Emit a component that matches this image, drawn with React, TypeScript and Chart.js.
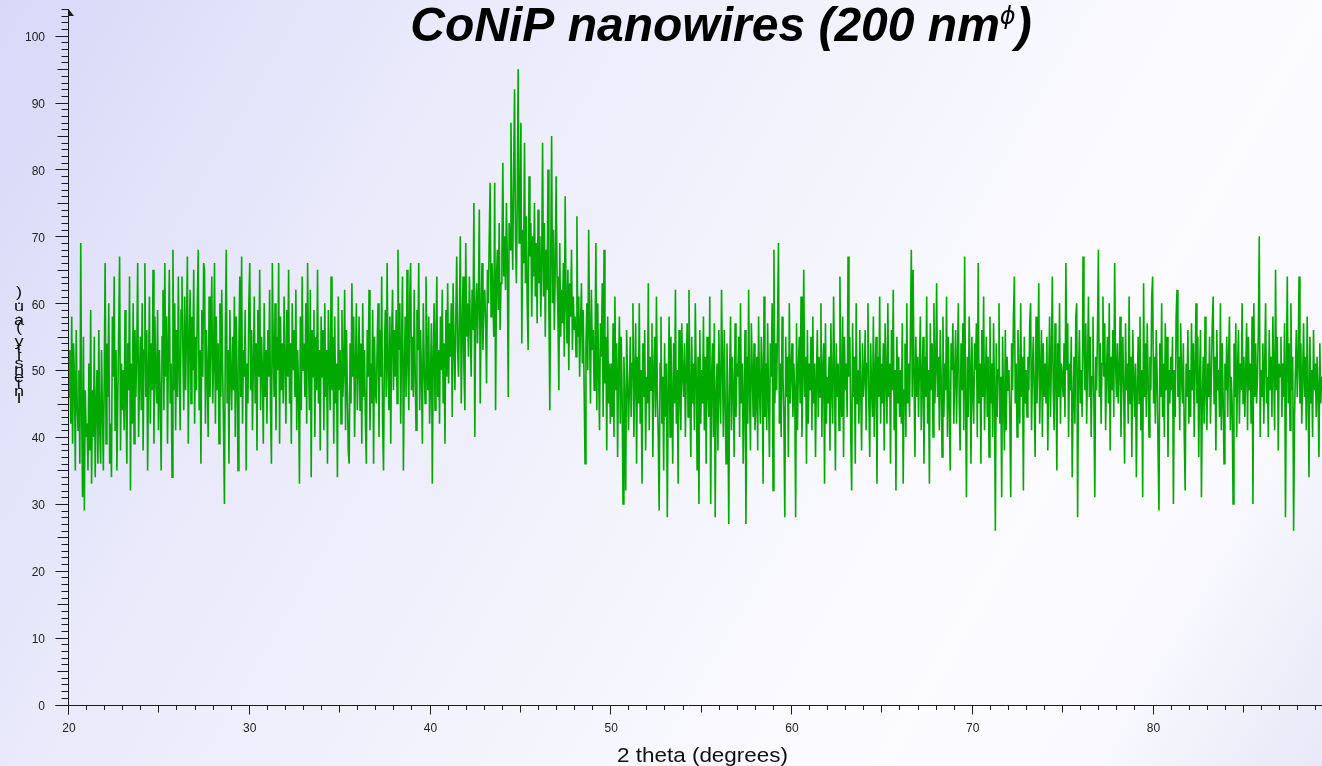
import React, { useEffect, useRef } from 'react';
import { Chart, registerables } from 'chart.js';

Chart.register(...registerables);

const TITLE_MAIN = 'CoNiP nanowires (200 nm';
const TITLE_SUP = '\u03D5';
const TITLE_END = ')';
const X_TITLE = '2 theta (degrees)';
const Y_TITLE = 'Intensity (a.u.)';

const scanStart = 20;
const scanStep = 0.05;
const xMin = 20;
const xMax = 89.32;
const yMin = 0;
const yMax = 104;
const xTickLabels = [20, 30, 40, 50, 60, 70, 80];
const yTickLabels = [0, 10, 20, 30, 40, 50, 60, 70, 80, 90, 100];

const counts20to30 = [
  46, 53, 42, 58, 39, 54, 49, 35, 56, 45, 41, 50, 36, 69, 44, 31, 55, 29, 47, 40,
  42, 35, 51, 38, 59, 33, 47, 40, 55, 34, 45, 50, 36, 56, 41, 36, 53, 44, 35, 49,
  66, 39, 54, 46, 60, 36, 42, 34, 58, 49, 64, 41, 53, 35, 46, 56, 67, 38, 51, 44,
  50, 41, 59, 45, 36, 54, 47, 64, 32, 51, 42, 60, 39, 56, 46, 53, 66, 40, 49, 55,
  44, 60, 38, 53, 66, 46, 56, 35, 50, 61, 42, 54, 47, 65, 39, 58, 49, 45, 59, 41,
  53, 46, 35, 55, 62, 44, 66, 49, 58, 39, 54, 65, 45, 51, 34, 68, 47, 60, 41, 56,
  46, 64, 50, 41, 59, 64, 53, 44, 61, 47, 56, 67, 39, 54, 62, 45, 58, 50, 65, 42,
  55, 47, 60, 68, 44, 53, 36, 59, 49, 66, 65, 42, 56, 50, 40, 61, 46, 54, 64, 45,
  51, 66, 42, 58, 47, 54, 39, 60, 46, 62, 50, 41, 30, 56, 68, 45, 53, 36, 59, 49,
  44, 55, 47, 61, 40, 58, 50, 35, 54, 64, 46, 67, 42, 53, 49, 59, 35, 51, 45, 60,
];

const counts30to40 = [
  66, 47, 56, 41, 51, 61, 45, 54, 38, 59, 49, 65, 44, 55, 50, 39, 60, 46, 53, 42,
  56, 49, 62, 44, 36, 66, 53, 46, 60, 41, 55, 50, 66, 39, 58, 47, 54, 45, 61, 51,
  42, 59, 49, 65, 45, 54, 39, 60, 50, 56, 46, 62, 41, 53, 47, 33, 58, 44, 64, 50,
  54, 46, 60, 42, 66, 51, 44, 62, 34, 56, 49, 59, 40, 55, 47, 65, 45, 53, 38, 58,
  49, 56, 41, 60, 46, 53, 36, 59, 50, 44, 64, 47, 55, 39, 58, 45, 51, 34, 61, 47,
  53, 42, 59, 46, 50, 62, 41, 56, 47, 38, 36, 54, 45, 63, 49, 58, 40, 51, 60, 44,
  50, 58, 44, 54, 39, 60, 46, 53, 42, 36, 56, 49, 62, 41, 51, 45, 59, 36, 55, 47,
  45, 54, 60, 40, 56, 49, 64, 42, 35, 53, 59, 46, 66, 50, 44, 58, 39, 55, 62, 47,
  56, 49, 59, 45, 68, 53, 60, 42, 54, 64, 35, 50, 58, 46, 65, 51, 44, 61, 66, 47,
  55, 46, 62, 50, 41, 59, 53, 66, 44, 56, 49, 39, 60, 51, 45, 64, 54, 47, 58, 42,
];

const counts40to50 = [
  49, 57, 33, 52, 60, 44, 55, 64, 46, 53, 42, 58, 50, 62, 45, 54, 39, 59, 49, 63,
  48, 57, 52, 60, 43, 63, 54, 47, 58, 67, 53, 49, 59, 70, 45, 55, 64, 50, 44, 69,
  55, 60, 52, 64, 57, 49, 62, 56, 75, 40, 59, 63, 54, 61, 74, 45, 58, 66, 53, 60,
  62, 57, 48, 65, 60, 70, 78, 58, 66, 61, 55, 78, 44, 64, 68, 59, 72, 56, 63, 67,
  81, 64, 70, 62, 75, 66, 46, 72, 68, 87, 73, 65, 80, 92, 70, 63, 76, 95, 69, 74,
  87, 54, 71, 66, 84, 63, 73, 60, 53, 79, 67, 72, 58, 70, 64, 75, 61, 69, 57, 74,
  63, 70, 58, 66, 84, 61, 72, 55, 68, 62, 80, 59, 44, 67, 85, 60, 71, 56, 65, 79,
  64, 58, 47, 69, 55, 62, 57, 66, 52, 76, 60, 54, 65, 50, 63, 58, 68, 53, 61, 56,
  58, 52, 73, 55, 61, 49, 57, 63, 51, 59, 47, 36, 54, 60, 50, 71, 56, 45, 62, 53,
  56, 47, 53, 69, 44, 60, 50, 41, 57, 52, 63, 43, 68, 48, 55, 38, 58, 45, 51, 42,
];

const counts50to60 = [
  51, 43, 57, 40, 61, 47, 54, 37, 50, 58, 42, 55, 46, 30, 52, 45, 32, 56, 49, 41,
  47, 55, 43, 51, 60, 40, 49, 57, 36, 52, 45, 60, 42, 50, 33, 54, 46, 56, 38, 49,
  45, 63, 41, 52, 47, 57, 37, 50, 55, 43, 61, 46, 40, 29, 51, 58, 42, 49, 35, 54,
  43, 51, 28, 47, 58, 40, 55, 46, 36, 54, 45, 62, 42, 50, 33, 56, 47, 41, 57, 49,
  46, 54, 40, 50, 57, 43, 62, 47, 37, 55, 45, 51, 41, 60, 49, 35, 52, 30, 56, 42,
  50, 45, 58, 41, 52, 36, 55, 47, 43, 61, 30, 49, 54, 40, 57, 28, 46, 51, 38, 56,
  47, 42, 62, 51, 40, 56, 46, 36, 54, 45, 27, 50, 58, 41, 52, 47, 37, 57, 43, 51,
  49, 55, 40, 60, 45, 51, 36, 46, 56, 27, 52, 42, 62, 47, 38, 57, 50, 43, 54, 41,
  45, 52, 38, 58, 47, 42, 55, 50, 33, 61, 43, 51, 41, 57, 46, 37, 54, 49, 60, 32,
  68, 45, 54, 47, 57, 69, 42, 51, 40, 58, 49, 43, 28, 55, 46, 52, 37, 60, 45, 50,
];

const counts60to70 = [
  54, 43, 51, 47, 28, 57, 41, 50, 55, 45, 61, 40, 49, 65, 46, 52, 36, 56, 42, 51,
  47, 55, 41, 58, 45, 51, 37, 49, 56, 43, 52, 46, 60, 40, 50, 54, 33, 57, 42, 49,
  45, 52, 38, 57, 47, 42, 61, 50, 35, 54, 46, 51, 41, 64, 49, 43, 58, 37, 55, 47,
  51, 43, 67, 49, 55, 40, 32, 57, 46, 52, 36, 60, 45, 50, 42, 56, 47, 38, 54, 46,
  49, 56, 41, 51, 60, 45, 37, 54, 47, 43, 58, 40, 50, 55, 33, 52, 46, 61, 42, 51,
  45, 54, 38, 57, 49, 42, 60, 46, 51, 36, 56, 47, 62, 41, 50, 32, 55, 45, 52, 43,
  50, 42, 57, 33, 47, 54, 40, 60, 45, 51, 43, 56, 68, 46, 65, 49, 37, 55, 46, 52,
  43, 51, 58, 41, 49, 55, 36, 52, 46, 61, 42, 50, 33, 57, 47, 54, 40, 60, 45, 50,
  63, 46, 52, 41, 56, 49, 37, 58, 43, 51, 47, 61, 40, 55, 45, 35, 54, 50, 57, 42,
  49, 56, 42, 51, 60, 45, 38, 54, 47, 57, 41, 67, 46, 31, 52, 43, 58, 50, 36, 55,
];

const counts70to80 = [
  47, 42, 54, 50, 57, 40, 66, 45, 51, 36, 56, 46, 61, 41, 49, 55, 43, 52, 37, 58,
  45, 51, 40, 57, 47, 26, 54, 43, 50, 60, 42, 49, 31, 55, 46, 38, 56, 41, 52, 47,
  50, 43, 31, 54, 47, 58, 64, 45, 51, 40, 56, 49, 42, 60, 46, 52, 32, 55, 45, 50,
  43, 52, 47, 57, 60, 41, 50, 55, 46, 37, 58, 45, 51, 63, 42, 49, 56, 40, 54, 46,
  51, 45, 55, 38, 49, 58, 43, 52, 64, 47, 41, 57, 50, 35, 54, 46, 60, 42, 51, 49,
  46, 54, 43, 66, 50, 57, 40, 51, 47, 55, 34, 45, 52, 42, 58, 60, 28, 49, 56, 45,
  50, 43, 67, 54, 47, 57, 42, 51, 61, 46, 55, 40, 49, 58, 45, 31, 52, 47, 56, 68,
  46, 54, 42, 51, 61, 49, 57, 41, 50, 55, 45, 60, 38, 52, 47, 56, 43, 66, 51, 46,
  54, 45, 50, 58, 40, 49, 55, 46, 36, 57, 47, 51, 42, 61, 45, 52, 37, 56, 49, 43,
  51, 34, 47, 55, 45, 58, 41, 50, 31, 63, 46, 54, 43, 57, 49, 40, 52, 47, 61, 64,
];

const counts80to89 = [
  45, 52, 42, 56, 49, 38, 29, 54, 46, 60, 43, 51, 40, 57, 47, 55, 37, 50, 45, 52,
  47, 55, 30, 50, 43, 58, 62, 46, 52, 41, 57, 49, 45, 54, 40, 32, 51, 46, 56, 42,
  50, 43, 57, 47, 54, 40, 51, 60, 45, 55, 37, 49, 56, 31, 46, 52, 42, 58, 47, 41,
  51, 46, 55, 42, 49, 57, 61, 45, 52, 38, 56, 47, 50, 43, 60, 41, 54, 46, 36, 51,
  47, 55, 43, 52, 58, 41, 49, 45, 30, 54, 46, 57, 40, 50, 56, 42, 51, 47, 60, 45,
  52, 43, 50, 57, 41, 55, 47, 51, 42, 58, 30, 60, 46, 54, 45, 49, 56, 70, 40, 50,
  46, 54, 42, 51, 60, 45, 49, 40, 56, 47, 52, 43, 58, 50, 41, 65, 47, 55, 38, 51,
  49, 55, 43, 51, 46, 57, 28, 50, 64, 45, 54, 41, 60, 47, 52, 26, 43, 50, 56, 46,
  51, 64, 45, 54, 42, 49, 57, 46, 52, 41, 58, 47, 34, 55, 45, 50, 40, 56, 47, 51,
  43, 52, 47, 37, 54, 45, 49,
];

const SANS = '"Liberation Sans", Arial, Helvetica, sans-serif';

const backgroundPlugin = {
  id: 'bgGradient',
  beforeDraw(chart: any) {
    const { ctx, width, height } = chart;
    const g = ctx.createLinearGradient(0, 0, width, height);
    g.addColorStop(0, '#d8d8f9');
    g.addColorStop(0.25, '#e9e9fb');
    g.addColorStop(0.5, '#f3f3fd');
    g.addColorStop(0.75, '#fcfcff');
    g.addColorStop(0.87, '#f8f8fe');
    g.addColorStop(1, '#e8e8f8');
    ctx.save();
    ctx.fillStyle = g;
    ctx.fillRect(0, 0, width, height);
    ctx.restore();
  },
};

const decorPlugin = {
  id: 'decor',
  afterDraw(chart: any) {
    const { ctx, chartArea } = chart;
    const xs = chart.scales.x;
    const ys = chart.scales.y;
    const ax = Math.round(chartArea.left) - 0.5;
    const ay = Math.round(ys.getPixelForValue(0)) + 0.5;
    ctx.save();
    ctx.strokeStyle = '#1c1c1c';
    ctx.fillStyle = '#1c1c1c';
    ctx.lineWidth = 1;
    // axis lines
    ctx.beginPath();
    ctx.moveTo(ax, ys.getPixelForValue(yMax));
    ctx.lineTo(ax, ay + 9);
    ctx.moveTo(ax - 13, ay);
    ctx.lineTo(chartArea.right, ay);
    ctx.stroke();
    // y ticks
    ctx.beginPath();
    for (let v = yMin; v <= yMax; v++) {
      const py = Math.round(ys.getPixelForValue(v)) + 0.5;
      const len = v % 10 === 0 ? 13 : v % 5 === 0 ? 11 : 7;
      ctx.moveTo(ax - len, py);
      ctx.lineTo(ax, py);
    }
    // x ticks
    for (let v = xMin; v <= Math.floor(xMax); v++) {
      const px = Math.round(xs.getPixelForValue(v)) - 0.5;
      const len = v % 10 === 0 ? 9 : v % 5 === 0 ? 7 : 4.5;
      ctx.moveTo(px, ay);
      ctx.lineTo(px, ay + len);
    }
    ctx.stroke();
    // arrow head at top of y axis
    const top = ys.getPixelForValue(yMax);
    ctx.beginPath();
    ctx.moveTo(ax, top);
    ctx.lineTo(ax + 5.5, top + 7);
    ctx.lineTo(ax, top + 7);
    ctx.closePath();
    ctx.fill();

    // main title
    ctx.fillStyle = '#000';
    ctx.textBaseline = 'alphabetic';
    ctx.textAlign = 'left';
    const fMain = `italic bold 48px ${SANS}`;
    const fSup = `italic 24px "DejaVu Sans", ${SANS}`;
    ctx.font = fMain;
    const w1 = ctx.measureText(TITLE_MAIN).width;
    const w3 = ctx.measureText(TITLE_END).width;
    ctx.font = fSup;
    const w2 = ctx.measureText(TITLE_SUP).width;
    const cx = 721;
    const x0 = cx - (w1 + w2 + w3) / 2;
    ctx.font = fMain;
    ctx.fillText(TITLE_MAIN, x0, 41);
    ctx.font = fSup;
    ctx.fillText(TITLE_SUP, x0 + w1, 24);
    ctx.font = fMain;
    ctx.fillText(TITLE_END, x0 + w1 + w2, 41);

    // x axis title
    ctx.font = `20px ${SANS}`;
    const wx = ctx.measureText(X_TITLE).width;
    const sx = 171 / wx;
    ctx.save();
    ctx.translate(702.5, 762);
    ctx.scale(sx, 1);
    ctx.textAlign = 'center';
    ctx.fillStyle = '#111';
    ctx.fillText(X_TITLE, 0, 0);
    ctx.restore();

    // y axis title: upright characters stacked upwards
    ctx.font = `14px ${SANS}`;
    ctx.textAlign = 'center';
    ctx.fillStyle = '#111';
    Array.from(Y_TITLE).forEach((ch, i) => {
      ctx.save();
      ctx.translate(19, 403 - i * 7.1);
      ctx.scale(1.3, 1);
      ctx.fillText(ch, 0, 0);
      ctx.restore();
    });
    ctx.restore();
  },
};

export default function App() {
  const canvasRef = useRef<HTMLCanvasElement | null>(null);

  useEffect(() => {
    const canvas = canvasRef.current;
    if (!canvas) return;
    const counts = [
      ...counts20to30,
      ...counts30to40,
      ...counts40to50,
      ...counts50to60,
      ...counts60to70,
      ...counts70to80,
      ...counts80to89,
    ];
    const points = counts.map((c, i) => ({
      x: Math.round((scanStart + i * scanStep) * 100) / 100,
      y: c,
    }));

    const chart = new Chart(canvas, {
      type: 'line',
      data: {
        datasets: [
          {
            data: points,
            borderColor: '#00a800',
            borderWidth: 1.6,
            pointRadius: 0,
            tension: 0,
            fill: false,
          },
        ],
      },
      options: {
        animation: false,
        responsive: false,
        maintainAspectRatio: false,
        events: [],
        layout: { padding: { top: 9, right: 0, left: 0, bottom: 0 } },
        plugins: {
          legend: { display: false },
          title: { display: false },
          tooltip: { enabled: false },
        },
        scales: {
          x: {
            type: 'linear',
            bounds: 'data',
            min: xMin,
            max: xMax,
            afterFit: (s: any) => {
              s.height = 61.5;
              s.paddingLeft = 0;
              s.paddingRight = 0;
            },
            grid: { display: false, drawTicks: false },
            border: { display: false },
            ticks: {
              stepSize: 10,
              includeBounds: false,
              autoSkip: false,
              maxRotation: 0,
              padding: 17,
              color: '#222',
              font: { family: SANS, size: 12 },
              callback: (v: any) => (xTickLabels.includes(v) ? String(v) : ''),
            },
          },
          y: {
            type: 'linear',
            bounds: 'data',
            min: yMin,
            max: yMax,
            afterFit: (s: any) => {
              s.width = 69;
              s.paddingTop = 0;
              s.paddingBottom = 0;
            },
            grid: { display: false, drawTicks: false },
            border: { display: false },
            ticks: {
              stepSize: 10,
              includeBounds: false,
              autoSkip: false,
              padding: 24,
              labelOffset: 2,
              color: '#222',
              font: { family: SANS, size: 12 },
              callback: (v: any) => (yTickLabels.includes(v) ? String(v) : ''),
            },
          },
        },
      },
      plugins: [backgroundPlugin, decorPlugin],
    });

    return () => {
      chart.destroy();
    };
  }, []);

  return (
    <div style={{ position: 'fixed', left: 0, top: 0, width: 1322, height: 766, overflow: 'hidden' }}>
      <canvas ref={canvasRef} width={1322} height={766} style={{ display: 'block', width: 1322, height: 766 }} />
    </div>
  );
}
